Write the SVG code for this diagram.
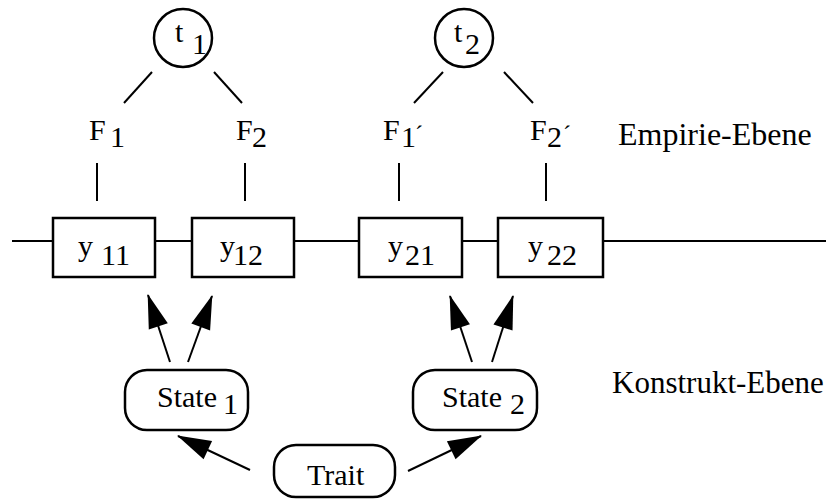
<svg xmlns="http://www.w3.org/2000/svg" width="826" height="500" viewBox="0 0 826 500">
<defs>
<style>
text{font-family:"Liberation Serif","Times New Roman",serif;font-size:30px;fill:#000}
.lbl{font-size:32px}
.lbl2{font-size:31px}
.ln{stroke:#000;stroke-width:2;fill:none}
.shape{stroke:#000;stroke-width:2.5;fill:#fff}
</style>
<marker id="ah" markerUnits="userSpaceOnUse" markerWidth="36" markerHeight="22" viewBox="0 0 34 22" refX="33" refY="11" orient="auto">
<path d="M0,1 L34,11 L0,21 z" fill="#000"/>
</marker>
</defs>
<rect width="826" height="500" fill="#fff"/>
<g id="connectors">
<line class="ln" x1="12" y1="241" x2="826" y2="241"/>
<line class="ln" x1="152" y1="72" x2="124" y2="103"/>
<line class="ln" x1="214" y1="72" x2="242" y2="103"/>
<line class="ln" x1="443" y1="72" x2="414" y2="103"/>
<line class="ln" x1="504" y1="72" x2="533" y2="103"/>
<line class="ln" x1="97" y1="163" x2="97" y2="201"/>
<line class="ln" x1="245" y1="163" x2="245" y2="201"/>
<line class="ln" x1="399" y1="163" x2="399" y2="201"/>
<line class="ln" x1="546" y1="163" x2="546" y2="201"/>
<line class="ln" x1="170" y1="362" x2="148" y2="295" marker-end="url(#ah)"/>
<line class="ln" x1="188" y1="362" x2="212" y2="296" marker-end="url(#ah)"/>
<line class="ln" x1="472" y1="362" x2="450" y2="296" marker-end="url(#ah)"/>
<line class="ln" x1="492" y1="362" x2="513" y2="296" marker-end="url(#ah)"/>
<line class="ln" x1="250" y1="470" x2="178" y2="436" marker-end="url(#ah)"/>
<line class="ln" x1="408" y1="471" x2="481" y2="436" marker-end="url(#ah)"/>
</g>
<g id="t1"><circle class="shape" cx="183" cy="38" r="29"/><text x="175" y="42">t</text><text x="192" y="54">1</text></g>
<g id="t2"><circle class="shape" cx="464" cy="38" r="29"/><text x="454" y="42">t</text><text x="465" y="54">2</text></g>
<g id="F1"><text x="89" y="140">F</text><text x="110" y="147">1</text></g>
<g id="F2"><text x="236" y="140">F</text><text x="252" y="147">2</text></g>
<g id="F1p"><text x="383" y="140">F</text><text x="401" y="147">1</text><text x="415" y="142" style="font-size:24px">´</text></g>
<g id="F2p"><text x="530" y="140">F</text><text x="547" y="147">2</text><text x="563" y="142" style="font-size:24px">´</text></g>
<g id="y11"><rect class="shape" x="53" y="218" width="102" height="59"/><text x="78" y="256">y</text><text x="101" y="265">11</text></g>
<g id="y12"><rect class="shape" x="192" y="218" width="102" height="59"/><text x="220" y="256">y</text><text x="233" y="265">12</text></g>
<g id="y21"><rect class="shape" x="359" y="218" width="103" height="59"/><text x="388" y="256">y</text><text x="405" y="265">21</text></g>
<g id="y22"><rect class="shape" x="498" y="218" width="105" height="59"/><text x="528" y="256">y</text><text x="547" y="265">22</text></g>
<g id="state1"><rect class="shape" x="125" y="370" width="123" height="60" rx="22"/><text x="157" y="407">State</text><text x="223" y="414">1</text></g>
<g id="state2"><rect class="shape" x="413" y="370" width="124" height="60" rx="22"/><text x="442" y="407">State</text><text x="510" y="414">2</text></g>
<g id="trait"><rect class="shape" x="274" y="445" width="121" height="52" rx="22"/><text x="307" y="485">Trait</text></g>
<g id="labels"><text class="lbl" x="618" y="145">Empirie-Ebene</text><text class="lbl2" x="612" y="393">Konstrukt-Ebene</text></g>
</svg>
